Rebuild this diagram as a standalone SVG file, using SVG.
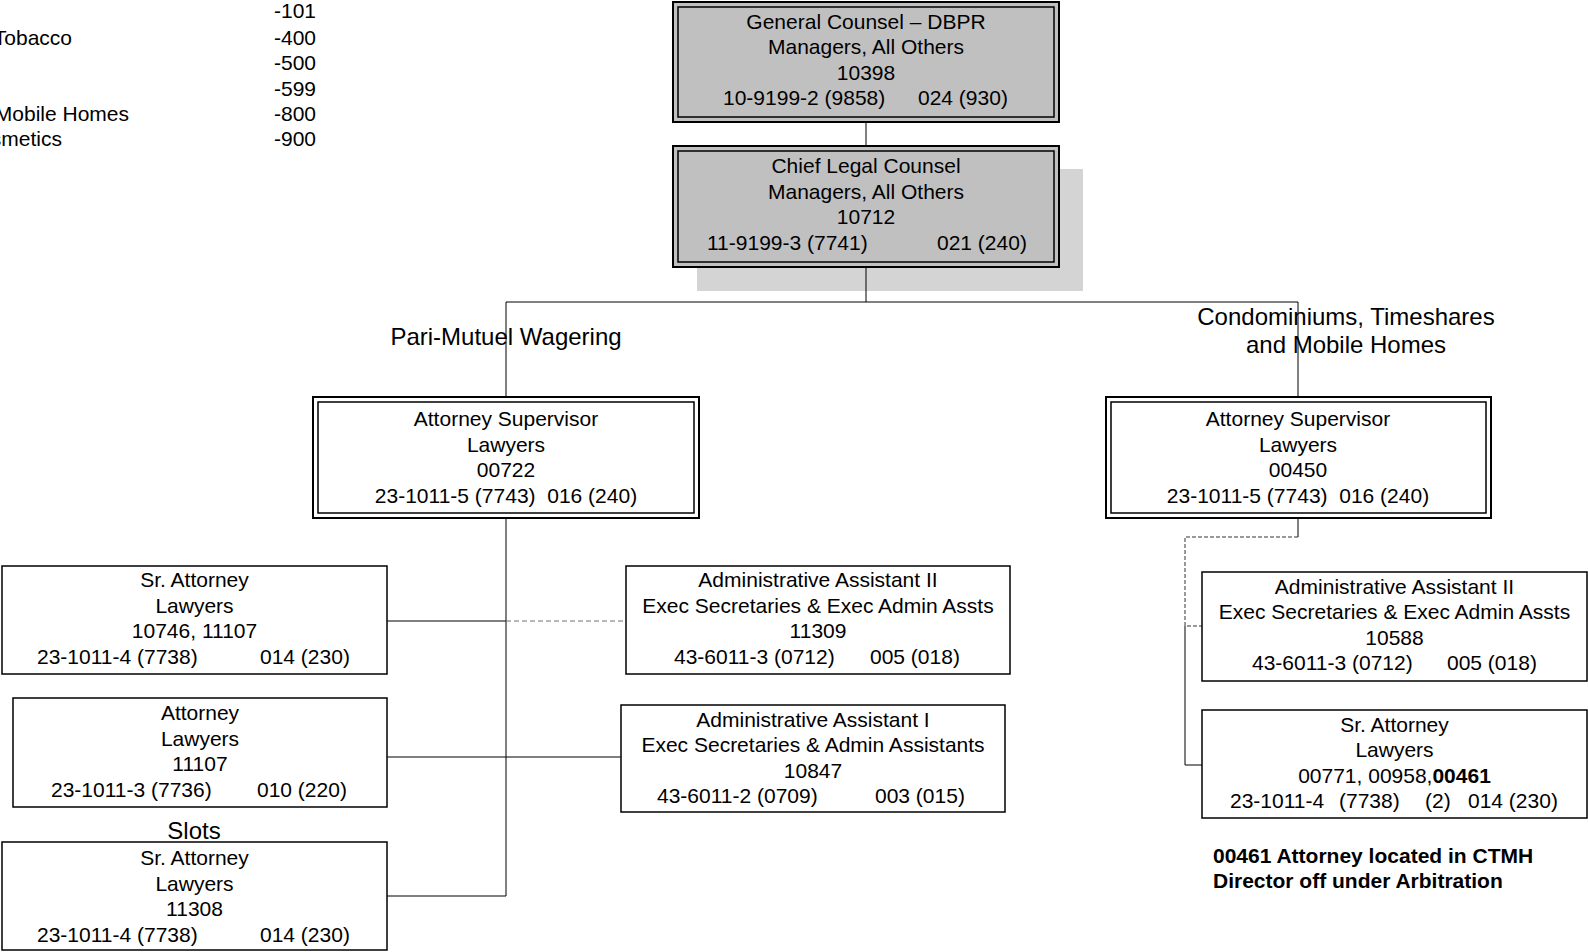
<svg xmlns="http://www.w3.org/2000/svg" width="1588" height="952" viewBox="0 0 1588 952" xml:space="preserve">
<style>
text{font-family:"Liberation Sans",Arial,sans-serif;font-size:21px;fill:#000;white-space:pre}
.c{text-anchor:middle}
.e{text-anchor:end}
.lbl{font-size:24px}
.b{font-weight:bold}
.gray{fill:#c0c0c0;stroke:#000;stroke-width:2}
.gin{fill:none;stroke:#000;stroke-width:1.5}
.dbl{fill:#fff;stroke:#000;stroke-width:2}
.box{fill:#fff;stroke:#000;stroke-width:1.5}
.ln{stroke:#000;stroke-width:1;fill:none}
.dl{stroke:#707070;stroke-width:1;fill:none;stroke-dasharray:5 3}
.dr{stroke:#333;stroke-width:1;fill:none;stroke-dasharray:4 2}
</style>
<rect x="0" y="0" width="1588" height="952" fill="#fff"/>
<g id="legend">
<text class="e" x="316" y="18">-101</text>
<text class="e" x="72" y="45">Tobacco</text>
<text class="e" x="316" y="45">-400</text>
<text class="e" x="316" y="70">-500</text>
<text class="e" x="316" y="96">-599</text>
<text class="e" x="129" y="121">Mobile Homes</text>
<text class="e" x="316" y="121">-800</text>
<text class="e" x="62" y="146">smetics</text>
<text class="e" x="316" y="146">-900</text>
</g>
<rect id="shadow" x="697" y="169" width="386" height="122" fill="#d4d4d4"/>
<g id="connectors">
<line class="ln" x1="866" y1="122" x2="866" y2="146"/>
<line class="ln" x1="866" y1="267" x2="866" y2="302"/>
<polyline class="ln" points="506,397 506,302 1298,302 1298,397"/>
<line class="ln" x1="506" y1="518" x2="506" y2="896"/>
<line class="ln" x1="387" y1="621" x2="506" y2="621"/>
<line class="dl" x1="506" y1="621" x2="626" y2="621"/>
<line class="ln" x1="387" y1="757" x2="621" y2="757"/>
<line class="ln" x1="387" y1="896" x2="506" y2="896"/>
<line class="ln" x1="1298" y1="518" x2="1298" y2="537"/>
<polyline class="dr" points="1298,537 1185,537 1185,626 1202,626"/>
<polyline class="ln" points="1185,626 1185,765 1202,765"/>
</g>
<g id="general-counsel">
<rect class="gray" x="673" y="2" width="386" height="120"/>
<rect class="gin" x="678" y="7" width="376" height="110"/>
<text class="c" x="866" y="28.5">General Counsel – DBPR</text>
<text class="c" x="866" y="54">Managers, All Others</text>
<text class="c" x="866" y="79.5">10398</text>
<text x="723" y="105">10-9199-2 (9858)</text>
<text x="918" y="105">024 (930)</text>
</g>
<g id="chief-legal-counsel">
<rect class="gray" x="673" y="146" width="386" height="121"/>
<rect class="gin" x="678" y="151" width="376" height="111"/>
<text class="c" x="866" y="173">Chief Legal Counsel</text>
<text class="c" x="866" y="198.5">Managers, All Others</text>
<text class="c" x="866" y="224">10712</text>
<text x="707" y="249.5">11-9199-3 (7741)</text>
<text x="937" y="249.5">021 (240)</text>
</g>
<text id="label-pari" class="c lbl" x="506" y="345">Pari-Mutuel Wagering</text>
<g id="label-condo">
<text class="c lbl" x="1346" y="325">Condominiums, Timeshares</text>
<text class="c lbl" x="1346" y="353">and Mobile Homes</text>
</g>
<g id="supervisor-pari">
<rect class="dbl" x="313" y="397" width="386" height="121"/>
<rect class="gin" x="318" y="402" width="376" height="111"/>
<text class="c" x="506" y="426">Attorney Supervisor</text>
<text class="c" x="506" y="451.5">Lawyers</text>
<text class="c" x="506" y="477">00722</text>
<text class="c" x="506" y="502.5">23-1011-5 (7743)  016 (240)</text>
</g>
<g id="supervisor-condo">
<rect class="dbl" x="1106" y="397" width="385" height="121"/>
<rect class="gin" x="1111" y="402" width="375" height="111"/>
<text class="c" x="1298" y="426">Attorney Supervisor</text>
<text class="c" x="1298" y="451.5">Lawyers</text>
<text class="c" x="1298" y="477">00450</text>
<text class="c" x="1298" y="502.5">23-1011-5 (7743)  016 (240)</text>
</g>
<g id="sr-attorney-1">
<rect class="box" x="2" y="566" width="385" height="108"/>
<text class="c" x="194.5" y="587">Sr. Attorney</text>
<text class="c" x="194.5" y="612.5">Lawyers</text>
<text class="c" x="194.5" y="638">10746, 11107</text>
<text x="37" y="663.5">23-1011-4 (7738)</text>
<text x="260" y="663.5">014 (230)</text>
</g>
<g id="attorney">
<rect class="box" x="13" y="698" width="374" height="109"/>
<text class="c" x="200" y="720">Attorney</text>
<text class="c" x="200" y="745.5">Lawyers</text>
<text class="c" x="200" y="771">11107</text>
<text x="51" y="796.5">23-1011-3 (7736)</text>
<text x="257" y="796.5">010 (220)</text>
</g>
<text id="label-slots" class="c lbl" x="194" y="839">Slots</text>
<g id="sr-attorney-slots">
<rect class="box" x="2" y="842" width="385" height="108"/>
<text class="c" x="194.5" y="865">Sr. Attorney</text>
<text class="c" x="194.5" y="890.5">Lawyers</text>
<text class="c" x="194.5" y="916">11308</text>
<text x="37" y="941.5">23-1011-4 (7738)</text>
<text x="260" y="941.5">014 (230)</text>
</g>
<g id="admin-assistant-2-pari">
<rect class="box" x="626" y="566" width="384" height="108"/>
<text class="c" x="818" y="587">Administrative Assistant II</text>
<text class="c" x="818" y="612.5">Exec Secretaries &amp; Exec Admin Assts</text>
<text class="c" x="818" y="638">11309</text>
<text x="674" y="663.5">43-6011-3 (0712)</text>
<text x="870" y="663.5">005 (018)</text>
</g>
<g id="admin-assistant-1">
<rect class="box" x="621" y="705" width="384" height="107"/>
<text class="c" x="813" y="726.5">Administrative Assistant I</text>
<text class="c" x="813" y="752">Exec Secretaries &amp; Admin Assistants</text>
<text class="c" x="813" y="777.5">10847</text>
<text x="657" y="803">43-6011-2 (0709)</text>
<text x="875" y="803">003 (015)</text>
</g>
<g id="admin-assistant-2-condo">
<rect class="box" x="1202" y="572" width="385" height="109"/>
<text class="c" x="1394.5" y="593.5">Administrative Assistant II</text>
<text class="c" x="1394.5" y="619">Exec Secretaries &amp; Exec Admin Assts</text>
<text class="c" x="1394.5" y="644.5">10588</text>
<text x="1252" y="670">43-6011-3 (0712)</text>
<text x="1447" y="670">005 (018)</text>
</g>
<g id="sr-attorney-condo">
<rect class="box" x="1202" y="710" width="385" height="108"/>
<text class="c" x="1394.5" y="731.5">Sr. Attorney</text>
<text class="c" x="1394.5" y="757">Lawyers</text>
<text class="c" x="1394.5" y="782.5">00771, 00958,<tspan class="b">00461</tspan></text>
<text x="1230" y="808">23-1011-4</text>
<text x="1339" y="808">(7738)</text>
<text x="1425" y="808">(2)</text>
<text x="1468" y="808">014 (230)</text>
</g>
<g id="note">
<text class="b" x="1213" y="863">00461 Attorney located in CTMH</text>
<text class="b" x="1213" y="888">Director off under Arbitration</text>
</g>
</svg>
